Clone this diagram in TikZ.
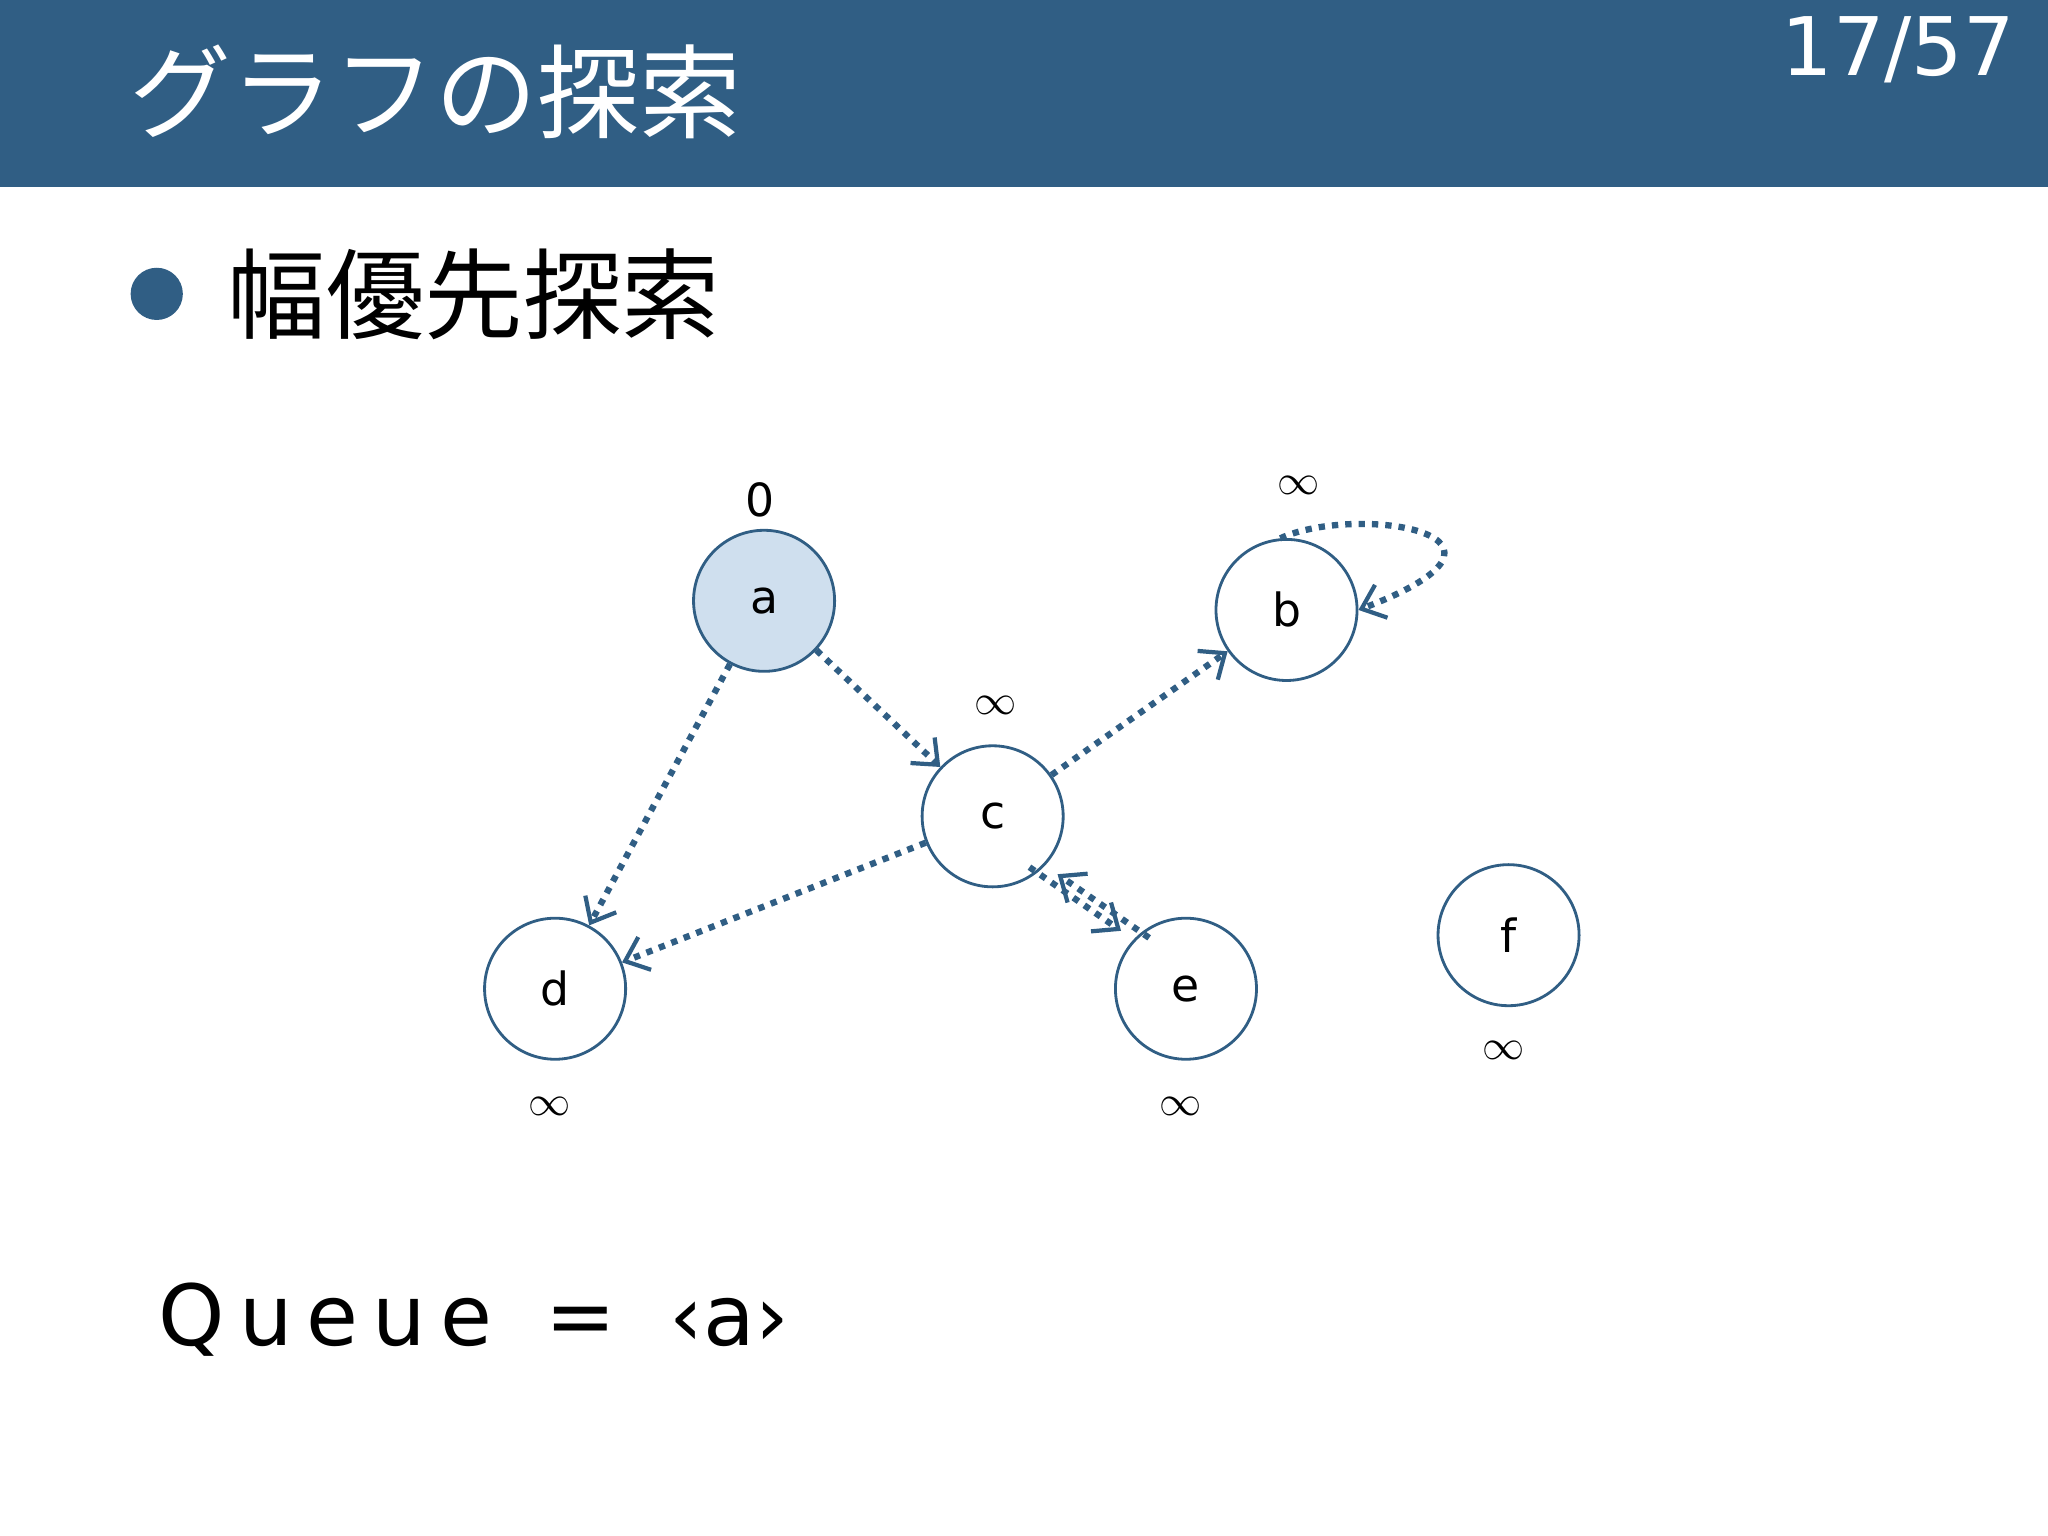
\documentclass[tikz,border=0pt]{standalone}
\usepackage{fontspec}
\setmainfont{DejaVu Sans}
\newfontfamily\cjk{Noto Sans CJK JP}
\usetikzlibrary{arrows.meta}
\definecolor{slideblue}{HTML}{305E84}
\definecolor{nodefill}{HTML}{CFDFEE}

\begin{document}
\begin{tikzpicture}[x=0.013061cm, y=-0.013061cm, font=\fontsize{13pt}{15pt}\selectfont]

  \tikzset{
    vertex/.style={circle, draw=slideblue, thick, minimum size=108*0.013061cm, inner sep=0pt},
    search/.style={slideblue, line width=1.8pt, dotted, -{Straight Barb[length=6pt, width=10pt, line width=1.2pt]}},
    dist/.style={inner sep=0pt}
  }

  \useasboundingbox (0,0) rectangle (1568,1176);
  \fill[slideblue] (0,0) rectangle (1568,143);
  \node[white, anchor=west] (title) at (90,70) {\cjk\fontsize{29pt}{32pt}\selectfont グラフの探索};
  \node[white, anchor=east] (page) at (1552,38) {\fontsize{23pt}{26pt}\selectfont 17/57};

  \fill[slideblue] (120,225) circle (20);
  \node[anchor=west] (sub) at (165,225) {\cjk\fontsize{28pt}{30pt}\selectfont 幅優先探索};

  \node[vertex, fill=nodefill] (a) at (585,460) {a};
  \node[vertex] (b) at (985,467) {b};
  \node[vertex] (c) at (760,625) {c};
  \node[vertex] (d) at (425,757) {d};
  \node[vertex] (e) at (908,757) {e};
  \node[vertex] (f) at (1155,716) {f};

  \node[dist] (da) at (582,383) {0};
  \node[dist] (db) at (994,372) {$\infty$};
  \node[dist] (dc) at (762,540) {$\infty$};
  \node[dist] (dd) at (421,847) {$\infty$};
  \node[dist] (de) at (904,847) {$\infty$};
  \node[dist] (df) at (1151,804) {$\infty$};

  \draw[search] (a) -- (c);
  \draw[search] (a) -- (d);
  \draw[search] (c) -- (b);
  \draw[search] (c) -- (d);
  \draw[search] ([xshift=-4pt]c.-45) -- ([xshift=-4pt,yshift=2pt]e.135);
  \draw[search] ([xshift=4pt]e.135) -- ([xshift=4pt,yshift=-2pt]c.-45);
  \draw[search] (b.95) .. controls (1040,385) and (1190,410) .. (b.0);

  \node[anchor=west] (queue) at (112,1010) {\fontsize{24pt}{26pt}\selectfont Q\,u\,e\,u\,e\ \ =\ \ ‹a›};

\end{tikzpicture}
\end{document}
